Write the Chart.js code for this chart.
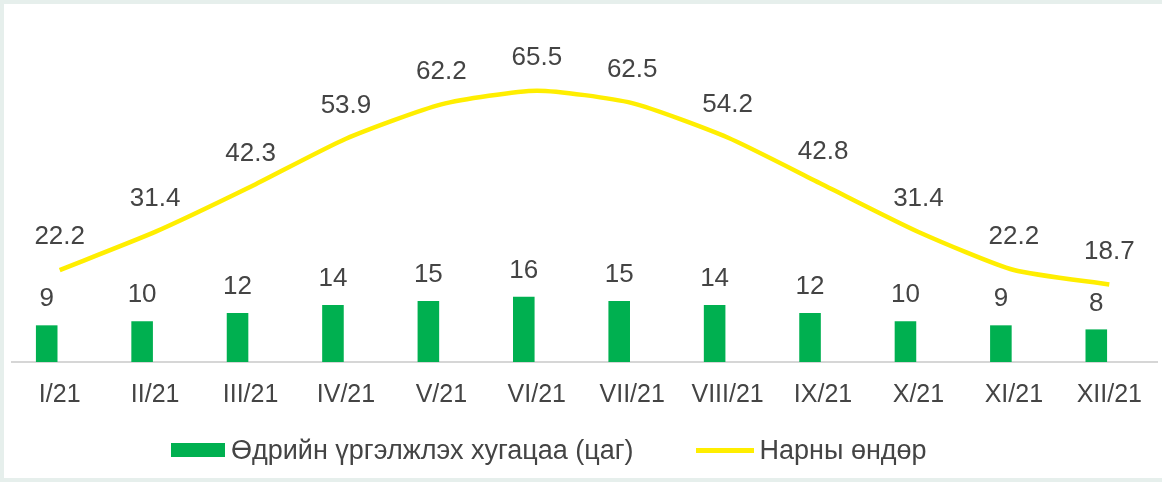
<!DOCTYPE html>
<html>
<head>
<meta charset="utf-8">
<script src="https://cdn.jsdelivr.net/npm/chart.js@4.4.0/dist/chart.umd.min.js"></script>
<style>
    html, body { margin: 0; padding: 0; }
    body { width: 1162px; height: 482px; background: #e6efec; overflow: hidden; font-family: "Liberation Sans", Arial, sans-serif; }
    #box { position: absolute; left: 4px; top: 4px; width: 1158px; height: 474px; background: #fff; }
    #chartWrap { position: absolute; left: 0; top: 0; width: 1158px; height: 474px; }
    #legend { position: absolute; left: 167px; top: 430px; display: flex; align-items: center; font-size: 27px; line-height: 32px; color: #444; }
    .item { display: flex; align-items: center; margin-right: 62px; }
    .mark { display: inline-block; margin-right: 6px; }
    .mark.box { width: 54px; height: 14px; }
    .mark.line { width: 58px; height: 5px; }
</style>
</head>
<body>
<div id="box">
    <div id="chartWrap"><canvas id="sunChart"></canvas></div>
    <div id="legend"></div>
</div>
<script>
const months = ["I/21", "II/21", "III/21", "IV/21", "V/21", "VI/21", "VII/21", "VIII/21", "IX/21", "X/21", "XI/21", "XII/21"];
const daylightHours = [9, 10, 12, 14, 15, 16, 15, 14, 12, 10, 9, 8];
const sunHeight = [22.2, 31.4, 42.3, 53.9, 62.2, 65.5, 62.5, 54.2, 42.8, 31.4, 22.2, 18.7];
// empty second bar group: keeps the green bars left of the category centre, as in the sheet
const emptySlot = [null, null, null, null, null, null, null, null, null, null, null, null];
const barLabel = "Өдрийн үргэлжлэх хугацаа (цаг)";
const lineLabel = "Нарны өндөр";

const textColor = "#444";
const fontFamily = '"Liberation Sans", Arial, sans-serif';

// labels above each bar / point
const valueLabels = {
    id: "valueLabels",
    afterDatasetsDraw(chart) {
        const ctx = chart.ctx;
        ctx.save();
        ctx.font = "26px " + fontFamily;
        ctx.fillStyle = textColor;
        ctx.textAlign = "center";
        ctx.textBaseline = "middle";
        chart.data.datasets.forEach((ds, di) => {
            if (!ds.label) return;
            const isLine = ds.type === "line";
            const gap = isLine ? 33 : 26;
            chart.getDatasetMeta(di).data.forEach((el, i) => {
                ctx.fillText(String(ds.data[i]), el.x, el.y - gap);
            });
        });
        ctx.restore();
    },
};

const chart = new Chart(document.getElementById("sunChart"), {
    type: "bar",
    data: {
        labels: months,
        datasets: [
            {
                type: "bar",
                label: barLabel,
                data: daylightHours,
                backgroundColor: "#00b050",
                categoryPercentage: 0.545,
                barPercentage: 0.83,
                yAxisID: "y",
            },
            {
                type: "bar",
                label: "",
                data: emptySlot,
                categoryPercentage: 0.545,
                barPercentage: 0.83,
                yAxisID: "y",
            },
            {
                type: "line",
                label: lineLabel,
                data: sunHeight,
                borderColor: "#ffee00",
                borderWidth: 4.5,
                pointRadius: 0,
                tension: 0.2,
                fill: false,
                yAxisID: "y2",
            },
        ],
    },
    options: {
        responsive: true,
        maintainAspectRatio: false,
        animation: false,
        layout: { padding: { left: 8, right: 5, top: 32, bottom: 58 } },
        plugins: {
            legend: { display: false },
            tooltip: { enabled: false },
        },
        scales: {
            x: {
                type: "category",
                offset: true,
                grid: { display: false },
                border: { color: "#d6d6d6", width: 2 },
                ticks: {
                    color: textColor,
                    font: { family: fontFamily, size: 25 },
                    padding: 10,
                    maxRotation: 0,
                    autoSkip: false,
                },
            },
            y: { display: false, min: 0, max: 80 },
            y2: { display: false, min: 0, max: 78.7 },
        },
    },
    plugins: [valueLabels],
});

// html legend built from the datasets
const legendBox = document.getElementById("legend");
chart.data.datasets.forEach((ds) => {
    if (!ds.label) return;
    const item = document.createElement("div");
    item.className = "item";
    const mark = document.createElement("span");
    const isLine = ds.type === "line";
    mark.className = isLine ? "mark line" : "mark box";
    mark.style.background = isLine ? ds.borderColor : ds.backgroundColor;
    const text = document.createElement("span");
    text.textContent = ds.label;
    item.appendChild(mark);
    item.appendChild(text);
    legendBox.appendChild(item);
});
</script>
</body>
</html>
